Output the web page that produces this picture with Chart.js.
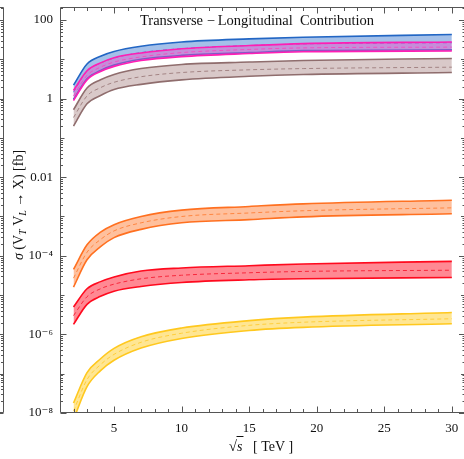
<!DOCTYPE html>
<html>
<head>
<meta charset="utf-8">
<script src="https://cdn.jsdelivr.net/npm/chart.js@4"></script>
<style>
  html, body { margin: 0; padding: 0; background: #fff; }
</style>
</head>
<body>
<canvas id="chart" width="464" height="459"></canvas>
<script>
// Data: sqrt(s) in TeV, cross sections in fb
const sqrtS = [2, 3, 4, 5, 7, 10, 15, 19, 30];

const magentaUpper = [1.6, 5.1, 8.1, 11, 14.5, 18.6, 22.4, 25.1, 27.5];
const magentaCentral = [1.17, 3.9, 6.3, 8.5, 11.5, 14.8, 17.8, 19.5, 20.4];
const magentaLower = [0.89, 3.0, 4.9, 6.6, 9.3, 11.7, 14, 15.5, 16.2];

const blueUpper = [2.2, 7.6, 12, 15.8, 21.4, 27.5, 33, 36.3, 42.7];
const blueCentral = [1.45, 5.0, 7.9, 10.7, 14.8, 18.6, 22.4, 24.5, 26.3];
const blueLower = [0.95, 3.2, 5.2, 7.1, 10, 12.6, 14.8, 16.6, 17.4];

const brownUpper = [0.52, 1.86, 3.0, 4.1, 5.8, 7.4, 8.5, 9.3, 10.5];
const brownCentral = [0.33, 1.17, 1.9, 2.6, 3.6, 4.6, 5.4, 5.8, 6.3];
const brownLower = [0.20, 0.74, 1.2, 1.7, 2.3, 3.0, 3.7, 4.1, 4.6];

const orangeUpper = [4.5e-5, 1.9e-4, 4.0e-4, 6.2e-4, 1.0e-3, 1.45e-3, 1.8e-3, 2.1e-3, 2.6e-3];
const orangeCentral = [2.7e-5, 1.23e-4, 2.6e-4, 4.3e-4, 6.9e-4, 1.0e-3, 1.23e-3, 1.4e-3, 1.66e-3];
const orangeLower = [1.6e-5, 7.9e-5, 1.7e-4, 2.9e-4, 4.7e-4, 6.9e-4, 8.3e-4, 9.8e-4, 1.17e-3];

const redUpper = [5.0e-6, 1.45e-5, 2.2e-5, 2.9e-5, 4.1e-5, 4.9e-5, 5.6e-5, 6.2e-5, 7.2e-5];
const redCentral = [3.0e-6, 9.1e-6, 1.45e-5, 1.9e-5, 2.6e-5, 3.2e-5, 3.7e-5, 4.0e-5, 4.3e-5];
const redLower = [1.8e-6, 5.8e-6, 9.3e-6, 1.26e-5, 1.66e-5, 2.1e-5, 2.45e-5, 2.6e-5, 2.8e-5];

const yellowUpper = [1.8e-8, 1.07e-7, 2.4e-7, 4.4e-7, 8.7e-7, 1.45e-6, 2.24e-6, 2.75e-6, 3.6e-6];
const yellowCentral = [1.12e-8, 7.1e-8, 1.7e-7, 3.1e-7, 6.3e-7, 1.07e-6, 1.7e-6, 2.04e-6, 2.5e-6];
const yellowLower = [6.8e-9, 4.7e-8, 1.2e-7, 2.2e-7, 4.5e-7, 7.9e-7, 1.26e-6, 1.51e-6, 1.86e-6];

// Axis ticks
const xTickValues = [5, 10, 15, 20, 25, 30];
const yTickValues = [1e-8, 1e-6, 1e-4, 1e-2, 1, 100];
const yTickLabels = ["10\u207B\u2078", "10\u207B\u2076", "10\u207B\u2074", "0.01", "1", "100"];

const SERIF = "'Liberation Serif', 'DejaVu Serif', serif";

// one band = lower edge, upper edge filled down to it, dashed central line
function band(lower, central, upper, line, fill, dash) {
  const pts = arr => arr.map((v, i) => ({ x: sqrtS[i], y: v }));
  const base = { pointRadius: 0, borderWidth: 1.6, borderColor: line, cubicInterpolationMode: "monotone" };
  return [
    { ...base, data: pts(lower), fill: false },
    { ...base, data: pts(upper), fill: "-1", backgroundColor: fill },
    { ...base, data: pts(central), fill: false, borderWidth: 1, borderColor: dash, borderDash: [4, 3] },
  ];
}

const datasets = [
  ...band(magentaLower, magentaCentral, magentaUpper, "#ff1eb4", "rgba(240,80,200,0.45)", "#f050c0"),
  ...band(blueLower, blueCentral, blueUpper, "#2266c4", "rgba(90,140,215,0.55)", "#3a6fd0"),
  ...band(brownLower, brownCentral, brownUpper, "#8f6d6d", "rgba(160,120,120,0.4)", "#a58c8c"),
  ...band(orangeLower, orangeCentral, orangeUpper, "#ff7020", "rgba(255,130,60,0.5)", "#ff8a45"),
  ...band(redLower, redCentral, redUpper, "#ff0a1e", "rgba(255,20,40,0.5)", "#f03c50"),
  ...band(yellowLower, yellowCentral, yellowUpper, "#ffc81e", "rgba(255,205,40,0.5)", "#ffcf50"),
];

// frame with inward ticks (Mathematica style) + the edge of the neighbouring panel
const framePlugin = {
  id: "frame",
  afterDraw(chart) {
    const { ctx, chartArea: a, scales: { x, y } } = chart;
    const L = a.left + 0.5, R = a.right, T = a.top + 0.5, B = a.bottom - 0.5;
    ctx.save();
    ctx.strokeStyle = "#555";
    ctx.lineWidth = 1;
    ctx.beginPath();
    // left, bottom and top edges; the right edge sits just off the canvas
    ctx.moveTo(R, T); ctx.lineTo(L, T); ctx.lineTo(L, B); ctx.lineTo(R, B);
    for (let v = 2; v <= 30; v++) {
      const px = Math.round(x.getPixelForValue(v)) + 0.5;
      const len = v % 5 === 0 ? 6 : 3.5;
      ctx.moveTo(px, B); ctx.lineTo(px, B - len);
      ctx.moveTo(px, T); ctx.lineTo(px, T + len);
    }
    for (let k = -8; k <= 2; k++) {
      for (let m = 1; m <= 9; m++) {
        const v = m * Math.pow(10, k);
        if (v > y.max) break;
        const py = Math.round(y.getPixelForValue(v)) + 0.5;
        const len = m > 1 ? 2.5 : (k % 2 === 0 ? 6 : 4);
        ctx.moveTo(L, py); ctx.lineTo(L + len, py);
        ctx.moveTo(R + 1, py); ctx.lineTo(R + 1 - len, py);
        ctx.moveTo(3.5, py); ctx.lineTo(3.5 - len, py);
      }
    }
    ctx.moveTo(3.5, T); ctx.lineTo(3.5, B);
    ctx.moveTo(0, T); ctx.lineTo(3.5, T);
    ctx.moveTo(0, B); ctx.lineTo(3.5, B);
    ctx.stroke();

    // titles
    ctx.fillStyle = "#111";
    ctx.textBaseline = "middle";
    ctx.textAlign = "center";
    ctx.font = "14.5px " + SERIF;
    ctx.fillText("Transverse \u2212\u2009Longitudinal  Contribution", 257, 21);

    // x title: sqrt(s) [ TeV ]
    ctx.textAlign = "left";
    ctx.textBaseline = "alphabetic";
    const xb = 451;
    ctx.font = "15px " + SERIF;
    const wRoot = ctx.measureText("\u221A").width;
    ctx.font = "italic 14px " + SERIF;
    const wS = ctx.measureText("s").width;
    ctx.font = "14px " + SERIF;
    const wRest = ctx.measureText("   [ TeV ]").width;
    let cx = 261 - (wRoot + wS + wRest) / 2;
    ctx.font = "15px " + SERIF;
    ctx.fillText("\u221A", cx, xb);
    cx += wRoot;
    ctx.font = "italic 14px " + SERIF;
    ctx.fillText("s", cx, xb);
    ctx.beginPath();
    ctx.moveTo(cx - 0.5, xb - 14.5); ctx.lineTo(cx + wS + 1, xb - 14.5);
    ctx.strokeStyle = "#111";
    ctx.stroke();
    cx += wS;
    ctx.font = "14px " + SERIF;
    ctx.fillText("   [ TeV ]", cx, xb);

    // y title, rotated, with subscripts
    const parts = [
      { t: "\u03C3", f: "italic 14px " + SERIF, dy: 0 },
      { t: " (V", f: "14px " + SERIF, dy: 0 },
      { t: "T", f: "italic 10px " + SERIF, dy: 3 },
      { t: " V", f: "14px " + SERIF, dy: 0 },
      { t: "L", f: "italic 10px " + SERIF, dy: 3 },
      { t: " \u2192 X) [fb]", f: "14px " + SERIF, dy: 0 },
    ];
    let total = 0;
    parts.forEach(p => { ctx.font = p.f; p.w = ctx.measureText(p.t).width; total += p.w; });
    ctx.translate(23, 205);
    ctx.rotate(-Math.PI / 2);
    let tx = -total / 2;
    parts.forEach(p => { ctx.font = p.f; ctx.fillText(p.t, tx, p.dy); tx += p.w; });
    ctx.restore();
  },
};

new Chart(document.getElementById("chart"), {
  type: "line",
  data: { datasets },
  options: {
    responsive: false,
    animation: false,
    devicePixelRatio: 1,
    layout: { padding: { left: 0, right: 0, top: 7, bottom: 0 } },
    plugins: { legend: { display: false }, tooltip: { enabled: false } },
    scales: {
      x: {
        type: "linear",
        min: 1.0,
        max: 30.9,
        afterFit: s => { s.height = 46; s.paddingLeft = 0; s.paddingRight = 0; },
        afterBuildTicks: s => { s.ticks = xTickValues.map(v => ({ value: v })); },
        grid: { display: false, drawTicks: false },
        border: { display: false },
        ticks: { padding: 8, color: "#111", font: { family: SERIF, size: 13 } },
      },
      y: {
        type: "logarithmic",
        min: 1e-8,
        max: 214,
        afterFit: s => { s.width = 60; s.paddingTop = 0; s.paddingBottom = 0; },
        afterBuildTicks: s => { s.ticks = yTickValues.map(v => ({ value: v })); },
        grid: { display: false, drawTicks: false },
        border: { display: false },
        ticks: {
          padding: 7,
          color: "#111",
          font: { family: SERIF, size: 13 },
          callback: v => yTickLabels[yTickValues.indexOf(v)] ?? "",
        },
      },
    },
  },
  plugins: [framePlugin],
});
</script>
</body>
</html>
